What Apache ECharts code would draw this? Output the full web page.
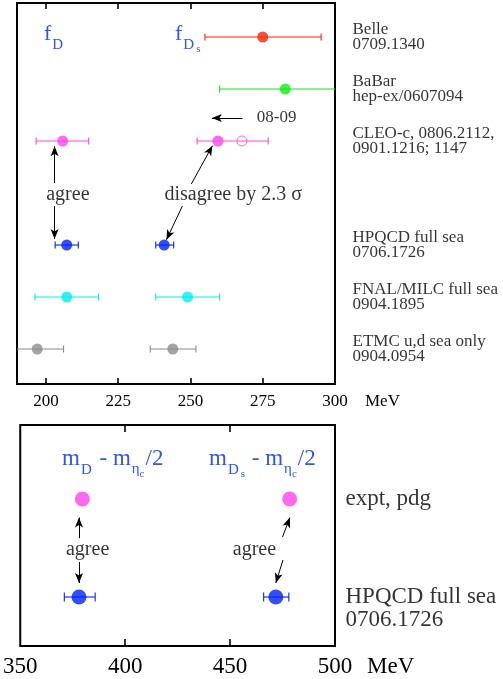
<!DOCTYPE html>
<html><head><meta charset="utf-8">
<script src="https://cdn.jsdelivr.net/npm/echarts@6/dist/echarts.min.js"></script>
<style>html,body{margin:0;padding:0;background:#fff}#c{width:503px;height:679px}</style>
</head><body><div id="c"></div>
<script>
// ---------- top panel data (decay constants, MeV) ----------
const rowLabels = ['Belle\n0709.1340', 'BaBar\nhep-ex/0607094', 'CLEO-c, 0806.2112,\n0901.1216; 1147', '', 'HPQCD full sea\n0706.1726', 'FNAL/MILC full sea\n0904.1895', 'ETMC u,d sea only\n0904.0954'];
const rowColors = ['#ff2200', '#11ee11', '#ff44ee', null, '#0022ff', '#00eeee', '#8c8c8c'];
const fDValue = [null, null, 205.8, null, 207.2, 207.2, 197.0];
const fDLow   = [null, null, 196.6, null, 203.2, 196.2, 188.0];
const fDHigh  = [null, null, 214.8, null, 211.2, 218.2, 206.1];
const fDsValue = [275.0, 282.8, 259.5, null, 240.9, 249.0, 243.9];
const fDsLow   = [255.0, 260.1, 252.3, null, 238.0, 238.0, 236.1];
const fDsHigh  = [295.2, 306.0, 276.9, null, 244.2, 260.1, 251.9];
const cleoOldFDs = 267.8; // open circle (08-09 shift)
const topLabelTicks = [200, 225, 250, 275, 300];
const topTicks = [200, 225, 250, 275];

// ---------- bottom panel data (mass differences, MeV) ----------
const massRows = ['expt, pdg', '', 'HPQCD full sea\n0706.1726'];
const massColors = ['#ff44ee', null, '#0022ff'];
const mDValue  = [379.6, null, 378.0];
const mDLow    = [null, null, 371.0];
const mDHigh   = [null, null, 385.7];
const mDsValue = [478.4, null, 471.8];
const mDsLow   = [null, null, 466.0];
const mDsHigh  = [null, null, 478.0];
const bottomLabelTicks = [350, 400, 450, 500];
const bottomTicks = [400, 450];

const FONT = 'Liberation Serif';
const TITLE_BLUE = '#2d55ff';

function errData(vals, lows, highs, colors) {
  const out = [];
  vals.forEach((v, i) => {
    if (lows[i] != null) out.push({ value: [v, lows[i], highs[i], i], itemStyle: { color: colors[i] } });
  });
  return out;
}
function dotData(vals, colors) {
  const out = [];
  vals.forEach((v, i) => { if (v != null) out.push({ value: [v, i], itemStyle: { color: colors[i] } }); });
  return out;
}
function errRender(cap) {
  return function (params, api) {
    const y = api.value(3);
    const lo = api.coord([api.value(1), y]);
    const hi = api.coord([api.value(2), y]);
    const col = api.visual('color');
    const st = { stroke: col, lineWidth: 1.1 };
    return { type: 'group', children: [
      { type: 'line', shape: { x1: lo[0], y1: lo[1], x2: hi[0], y2: hi[1] }, style: st },
      { type: 'line', shape: { x1: lo[0], y1: lo[1] - cap, x2: lo[0], y2: lo[1] + cap }, style: st },
      { type: 'line', shape: { x1: hi[0], y1: hi[1] - cap, x2: hi[0], y2: hi[1] + cap }, style: st }
    ]};
  };
}
function arrows(list) {
  return list.map(a => [{ coord: a[0] }, { coord: a[1] }]);
}

const labelSeries = (xAxisIndex, yAxisIndex, x, rows, fs, lh, dist, firstLineAligned) => ({
  type: 'scatter', xAxisIndex, yAxisIndex, symbolSize: 1, silent: true,
  itemStyle: { color: 'rgba(0,0,0,0)' },
  data: rows.map((r, i) => {
    const n = r.split('\n').length;
    return { value: [x, i], name: r, label: { offset: [0, firstLineAligned ? (n - 1) * lh / 2 : 0] } };
  }).filter(d => d.name !== ''),
  label: { show: true, position: 'right', distance: dist, formatter: '{b}', color: '#000', fontFamily: FONT, fontSize: fs, lineHeight: lh, align: 'left' }
});

const annoSeries = (xAxisIndex, yAxisIndex, items, fs, pos) => ({
  type: 'scatter', xAxisIndex, yAxisIndex, symbolSize: 1, silent: true,
  itemStyle: { color: 'rgba(0,0,0,0)' },
  data: items.map(t => ({ value: t.pos, name: t.text })),
  label: { show: true, position: pos || 'inside', distance: 0, formatter: '{b}', color: '#000', fontFamily: FONT, fontSize: fs }
});

const arrowSeries = (xAxisIndex, yAxisIndex, list) => ({
  type: 'line', xAxisIndex, yAxisIndex, data: [], silent: true,
  markLine: {
    silent: true, symbol: ['none', 'arrow'], symbolSize: [6, 10], animation: false,
    label: { show: false },
    lineStyle: { color: '#000', width: 1, type: 'solid' },
    emphasis: { disabled: true },
    data: arrows(list)
  }
});

// rich-text pieces: all tokens top-aligned; subscripts pushed down by top padding
function richStyle(main, sub, subsub) {
  return {
    m: { fontSize: main, fontFamily: FONT, fill: TITLE_BLUE, verticalAlign: 'top' },
    a: { fontSize: sub, fontFamily: FONT, fill: TITLE_BLUE, verticalAlign: 'top', padding: [15, 2, 0, 1] },
    e: { fontSize: sub, fontFamily: FONT, fill: TITLE_BLUE, verticalAlign: 'top', padding: [14, 0, 0, 1] },
    b: { fontSize: subsub, fontFamily: FONT, fill: TITLE_BLUE, verticalAlign: 'top', padding: [21, 1, 0, 0] }
  };
}
function titleText(x, y, text, main) {
  return { type: 'text', x: x, y: y, style: { text: text, verticalAlign: 'top', fontFamily: FONT, fill: TITLE_BLUE, rich: richStyle(main, 15, 11) } };
}

const chart = echarts.init(document.getElementById('c'), null, { renderer: 'canvas' });

const axisCommon = {
  axisLine: { show: false, onZero: false }, splitLine: { show: false },
};
const tickStyle = { color: '#000', width: 1.6 };

chart.setOption({
  animation: false,
  backgroundColor: '#fff',
  grid: [
    { left: 17, top: 3, width: 318, height: 381, show: true, borderColor: '#000', borderWidth: 2 },
    { left: 20, top: 425, width: 315, height: 221, show: true, borderColor: '#000', borderWidth: 2 }
  ],
  xAxis: [
    Object.assign({ type: 'value', gridIndex: 0, min: 190, max: 300, position: 'bottom',
      axisTick: { show: true, inside: true, length: 6, lineStyle: tickStyle, customValues: topTicks },
      axisLabel: { show: true, customValues: topLabelTicks, fontFamily: FONT, fontSize: 17, color: '#000', margin: 9 } }, axisCommon),
    Object.assign({ type: 'value', gridIndex: 0, min: 190, max: 300, position: 'top',
      axisTick: { show: true, inside: true, length: 6, lineStyle: tickStyle, customValues: topTicks },
      axisLabel: { show: false } }, axisCommon),
    Object.assign({ type: 'value', gridIndex: 1, min: 350, max: 500, position: 'bottom',
      axisTick: { show: true, inside: true, length: 7, lineStyle: tickStyle, customValues: bottomTicks },
      axisLabel: { show: true, customValues: bottomLabelTicks, fontFamily: FONT, fontSize: 23, color: '#000', margin: 9 } }, axisCommon),
    Object.assign({ type: 'value', gridIndex: 1, min: 350, max: 500, position: 'top',
      axisTick: { show: true, inside: true, length: 7, lineStyle: tickStyle, customValues: bottomTicks },
      axisLabel: { show: false } }, axisCommon)
  ],
  yAxis: [
    { type: 'value', gridIndex: 0, min: -0.654, max: 6.673, inverse: true, show: false },
    { type: 'value', gridIndex: 1, min: -1.51, max: 3.0, inverse: true, show: false }
  ],
  series: [
    { type: 'custom', xAxisIndex: 0, yAxisIndex: 0, clip: true, renderItem: errRender(3.5), data: errData(fDValue, fDLow, fDHigh, rowColors), z: 2 },
    { type: 'custom', xAxisIndex: 0, yAxisIndex: 0, clip: true, renderItem: errRender(3.5), data: errData(fDsValue, fDsLow, fDsHigh, rowColors), z: 2 },
    { type: 'scatter', xAxisIndex: 0, yAxisIndex: 0, symbolSize: 11, data: dotData(fDValue, rowColors), z: 3 },
    { type: 'scatter', xAxisIndex: 0, yAxisIndex: 0, symbolSize: 11, data: dotData(fDsValue, rowColors), z: 3 },
    { type: 'scatter', xAxisIndex: 0, yAxisIndex: 0, symbolSize: 10, data: [[cleoOldFDs, 2]],
      itemStyle: { color: 'rgba(0,0,0,0)', borderColor: '#ff44ee', borderWidth: 1 }, z: 3 },
    labelSeries(0, 0, 300, rowLabels, 17, 15, 17, false),
    arrowSeries(0, 0, [
      [[268.0, 1.558], [257.4, 1.558]],
      [[203.0, 2.808], [203.0, 2.10]],
      [[203.0, 3.25], [203.0, 3.885]],
      [[250.3, 2.827], [257.6, 2.09]],
      [[247.2, 3.25], [241.7, 3.90]]
    ]),
    annoSeries(0, 0, [
      { text: 'agree', pos: [207.6, 3.03] },
      { text: 'disagree by 2.3 σ', pos: [264.8, 3.03] }
    ], 20),
    annoSeries(0, 0, [ { text: '08-09', pos: [272.8, 1.558] } ], 17, 'right'),

    { type: 'custom', xAxisIndex: 2, yAxisIndex: 1, clip: true, renderItem: errRender(4.5), data: errData(mDValue, mDLow, mDHigh, massColors), z: 2 },
    { type: 'custom', xAxisIndex: 2, yAxisIndex: 1, clip: true, renderItem: errRender(4.5), data: errData(mDsValue, mDsLow, mDsHigh, massColors), z: 2 },
    { type: 'scatter', xAxisIndex: 2, yAxisIndex: 1, symbolSize: 15, data: dotData(mDValue, massColors), z: 3 },
    { type: 'scatter', xAxisIndex: 2, yAxisIndex: 1, symbolSize: 15, data: dotData(mDsValue, massColors), z: 3 },
    labelSeries(2, 1, 500, massRows, 23, 23, 10, true),
    arrowSeries(2, 1, [
      [[378.0, 0.80], [378.0, 0.38]],
      [[378.0, 1.286], [378.0, 1.714]],
      [[475.0, 0.776], [478.5, 0.38]],
      [[475.2, 1.245], [471.8, 1.714]]
    ]),
    annoSeries(2, 1, [
      { text: 'agree', pos: [382.1, 1.03] },
      { text: 'agree', pos: [461.6, 1.03] }
    ], 20)
  ],
  graphic: [
    { type: 'text', left: 365, top: 393, style: { text: 'MeV', fontFamily: FONT, fontSize: 17, fill: '#000' } },
    { type: 'text', left: 367, top: 655, style: { text: 'MeV', fontFamily: FONT, fontSize: 23, fill: '#000' } },
    titleText(44, 23, '{m|f}{a|D}', 22),
    titleText(175, 23, '{m|f}{a|D}{b|s}', 22),
    titleText(62, 447.5, '{m|m}{a|D}{m| - m}{e|η}{b|c}{m|/2}', 23),
    titleText(209, 447.5, '{m|m}{a|D}{b|s}{m| - m}{e|η}{b|c}{m|/2}', 23)
  ]
});
</script>
</body></html>
